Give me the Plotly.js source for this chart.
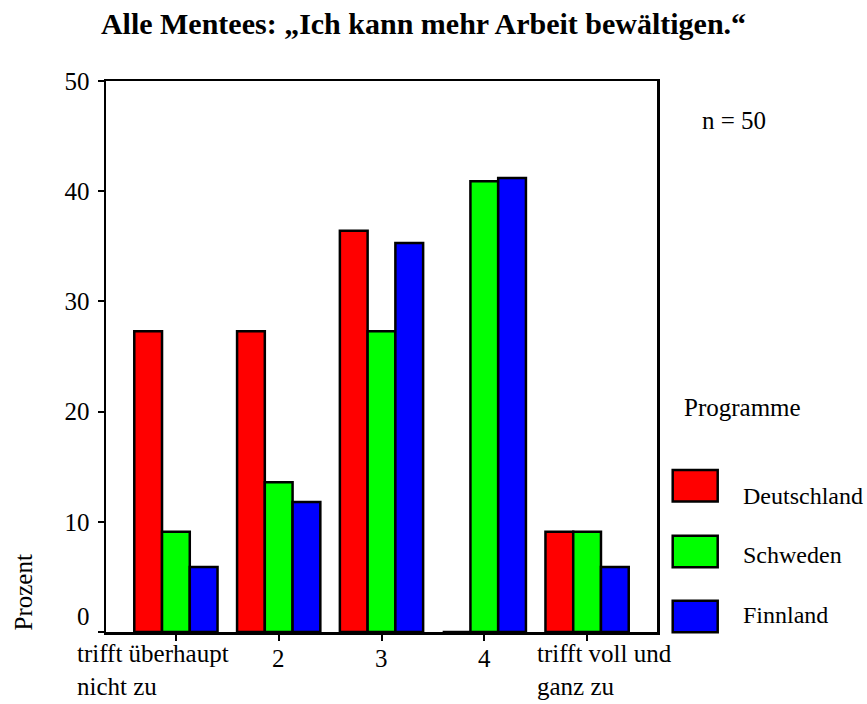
<!DOCTYPE html>
<html>
<head>
<meta charset="utf-8">
<script src="https://cdn.plot.ly/plotly-3.0.1.min.js"></script>
<style>html,body{margin:0;padding:0;background:#fff;}#chart{width:867px;height:704px;}</style>
</head>
<body>
<div id="chart"></div>
<script>
// ---- data ----
const categories = ["trifft überhaupt<br>nicht zu", "2", "3", "4", "trifft voll und<br>ganz zu"];
const seriesNames = ["Deutschland", "Schweden", "Finnland"];
const deutschland = [27.3, 27.3, 36.4, 0, 9.1];
const schweden = [9.1, 13.6, 27.3, 40.9, 9.1];
const finnland = [5.9, 11.8, 35.3, 41.2, 5.9];
const seriesColors = ["#ff0000", "#00ff00", "#0000ff"];
const yTickValues = [0, 10, 20, 30, 40, 50];
const yTickLabels = ["0", "10", "20", "30", "40", "50"];
const titleText = "Alle Mentees: „Ich kann mehr Arbeit bewältigen.“";
const nText = "n = 50";
const legendTitle = "Programme";
const yTitle = "Prozent";

const FONT = "Liberation Serif, Times New Roman, serif";
const FS = 25;
const seriesValues = [deutschland, schweden, finnland];
const xIdx = categories.map((_, i) => i);

const traces = seriesValues.map((vals, s) => ({
  type: "bar",
  name: seriesNames[s],
  x: xIdx,
  y: vals,
  marker: {color: seriesColors[s], line: {color: "#000", width: 2.5}},
  showlegend: false,
  hoverinfo: "skip"
}));

// plot area in pixels: left 106, right 657, top 81, bottom 632
const L = 106, T = 81, W = 551, H = 551;
const px = x => (x - L) / W;
const py = y => (T + H - y) / H;

const annotations = [];
// x category labels
categories.forEach((c, i) => {
  const multi = c.indexOf("<br>") >= 0;
  let a = {
    xref: "x", yref: "paper", x: i, y: 0,
    text: c, showarrow: false, align: "left",
    font: {family: FONT, size: FS, color: "#000"},
    yanchor: "top", xanchor: "center",
    yshift: multi ? -6 : -11
  };
  if (multi) {
    a.xanchor = "left";
    a.xshift = (i === 0) ? -101 : -52;
  }
  annotations.push(a);
});
// y tick label "0" (drawn above the axis line as in the reference)
annotations.push({
  xref: "paper", yref: "paper", x: px(92), y: py(616.5),
  text: yTickLabels[0], showarrow: false, xanchor: "right", yanchor: "middle",
  font: {family: FONT, size: FS, color: "#000"}
});
// y title
annotations.push({
  xref: "paper", yref: "paper", x: px(22.5), y: py(592),
  text: yTitle, textangle: -90, showarrow: false, xanchor: "center", yanchor: "middle",
  font: {family: FONT, size: FS, color: "#000"}
});
// n = 50
annotations.push({
  xref: "paper", yref: "paper", x: px(700), y: py(120.3),
  text: nText, showarrow: false, xanchor: "left", yanchor: "middle",
  font: {family: FONT, size: FS, color: "#000"}
});
// legend title
annotations.push({
  xref: "paper", yref: "paper", x: px(681.5), y: py(407),
  text: legendTitle, showarrow: false, xanchor: "left", yanchor: "middle",
  font: {family: FONT, size: FS, color: "#000"}
});

const shapes = [];
const swatchTops = [470, 535.7, 600.7];
const labelCenters = [496, 555.3, 615];
seriesNames.forEach((n, s) => {
  shapes.push({
    type: "rect", xref: "paper", yref: "paper",
    x0: px(672.7), x1: px(717.7), y0: py(swatchTops[s] + 31.5), y1: py(swatchTops[s]),
    fillcolor: seriesColors[s], line: {color: "#000", width: 2.5}
  });
  annotations.push({
    xref: "paper", yref: "paper", x: px(741), y: py(labelCenters[s]),
    text: n, showarrow: false, xanchor: "left", yanchor: "middle",
    font: {family: FONT, size: 24, color: "#000"}
  });
});

const layout = {
  width: 867, height: 704,
  margin: {l: L, r: 867 - L - W, t: T, b: 704 - T - H, pad: 0},
  paper_bgcolor: "#fff", plot_bgcolor: "#fff",
  font: {family: FONT, size: FS, color: "#000"},
  title: {
    text: "<b>" + titleText + "</b>",
    font: {family: FONT, size: 30, color: "#000"},
    xref: "container", yref: "container",
    x: 423.5 / 867, xanchor: "center",
    y: 1 - 23 / 704, yanchor: "middle"
  },
  barmode: "group", bargap: 0.19, bargroupgap: 0,
  xaxis: {
    range: [-0.68, 4.68], tickvals: xIdx, ticktext: xIdx.map(() => ""),
    showgrid: false, zeroline: false,
    showline: true, linecolor: "#000", linewidth: 2.5, mirror: true,
    ticks: "outside", ticklen: 6, tickwidth: 2, tickcolor: "#000",
    fixedrange: true
  },
  yaxis: {
    range: [0, 50], tickvals: yTickValues,
    ticktext: yTickLabels.map((t, i) => i === 0 ? "" : t),
    showgrid: false, zeroline: false,
    showline: true, linecolor: "#000", linewidth: 2.5, mirror: true,
    ticks: "outside", ticklen: 6, tickwidth: 2, tickcolor: "#000",
    ticklabelstandoff: 3,
    tickfont: {family: FONT, size: FS, color: "#000"},
    fixedrange: true
  },
  annotations: annotations,
  shapes: shapes,
  showlegend: false
};

Plotly.newPlot("chart", traces, layout, {displayModeBar: false, staticPlot: true});
</script>
</body>
</html>
